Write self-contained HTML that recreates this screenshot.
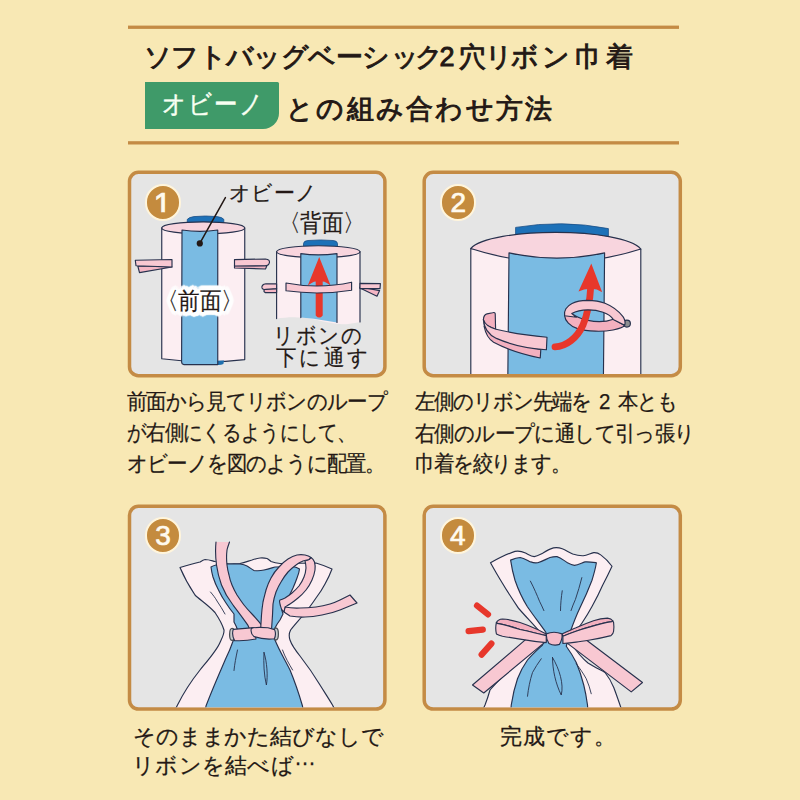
<!DOCTYPE html>
<html lang="ja">
<head>
<meta charset="utf-8">
<title>ソフトバッグベーシック2穴リボン巾着 オビーノとの組み合わせ方法</title>
<style>
html,body{margin:0;padding:0;}
body{width:800px;height:800px;overflow:hidden;background:#f8e8b4;font-family:"Liberation Sans",sans-serif;color:#231815;}
#page{position:relative;width:800px;height:800px;overflow:hidden;background:#f8e8b4;}
#art{position:absolute;left:0;top:0;width:800px;height:800px;}
.t{position:absolute;white-space:nowrap;margin:0;padding:0;line-height:1;text-align:justify;text-align-last:justify;letter-spacing:-4px;text-indent:0;}
.t i{font-style:normal;letter-spacing:0;}
.tl{letter-spacing:0;text-align:left;text-align-last:left;}
.seg{display:inline-block;vertical-align:top;white-space:nowrap;text-align:justify;text-align-last:justify;letter-spacing:-4px;}
.title{font-size:27px;-webkit-text-stroke:0.95px #231815;}
.cap{font-size:21px;-webkit-text-stroke:0.25px #231815;}
.cap2{font-size:22px;-webkit-text-stroke:0.25px #231815;}
.lbl{font-size:21px;-webkit-text-stroke:0.2px #231815;}
.halo{text-shadow:2.0px 0.0px 0.5px #fff,1.4px 1.4px 0.5px #fff,0.0px 2.0px 0.5px #fff,-1.4px 1.4px 0.5px #fff,-2.0px 0.0px 0.5px #fff,-1.4px -1.4px 0.5px #fff,-0.0px -2.0px 0.5px #fff,1.4px -1.4px 0.5px #fff,3.6px 0.0px 0.6px #fff,3.3px 1.4px 0.6px #fff,2.5px 2.5px 0.6px #fff,1.4px 3.3px 0.6px #fff,0.0px 3.6px 0.6px #fff,-1.4px 3.3px 0.6px #fff,-2.5px 2.5px 0.6px #fff,-3.3px 1.4px 0.6px #fff,-3.6px 0.0px 0.6px #fff,-3.3px -1.4px 0.6px #fff,-2.5px -2.5px 0.6px #fff,-1.4px -3.3px 0.6px #fff,-0.0px -3.6px 0.6px #fff,1.4px -3.3px 0.6px #fff,2.5px -2.5px 0.6px #fff,3.3px -1.4px 0.6px #fff,4.6px 0.0px 1.2px #fff,4.4px 1.4px 1.2px #fff,3.7px 2.7px 1.2px #fff,2.7px 3.7px 1.2px #fff,1.4px 4.4px 1.2px #fff,0.0px 4.6px 1.2px #fff,-1.4px 4.4px 1.2px #fff,-2.7px 3.7px 1.2px #fff,-3.7px 2.7px 1.2px #fff,-4.4px 1.4px 1.2px #fff,-4.6px 0.0px 1.2px #fff,-4.4px -1.4px 1.2px #fff,-3.7px -2.7px 1.2px #fff,-2.7px -3.7px 1.2px #fff,-1.4px -4.4px 1.2px #fff,-0.0px -4.6px 1.2px #fff,1.4px -4.4px 1.2px #fff,2.7px -3.7px 1.2px #fff,3.7px -2.7px 1.2px #fff,4.4px -1.4px 1.2px #fff;}
.badge{position:absolute;left:145px;top:81.6px;width:134px;height:47px;background:#3f9a69;border-radius:0 1.5px 16px 0;}
.badge .t{color:#f8fff2;font-size:26px;-webkit-text-stroke:0.45px #f8fff2;transform:scaleX(0.9);transform-origin:0 0;}
.num{position:absolute;width:32.6px;height:32.6px;border-radius:50%;background:#c48b3e;border:2px solid #fff5dc;color:#fffaee;font-size:28px;line-height:33px;text-align:center;-webkit-text-stroke:0.7px #fffaee;}
</style>
</head>
<body>
<div id="page">
<svg id="art" viewBox="0 0 800 800" width="800" height="800">
<!-- header rules -->
<rect x="128" y="25.6" width="551" height="3.3" fill="#c48b45"/>
<rect x="128" y="141.2" width="551" height="3.3" fill="#c48b45"/>
<!-- panels -->
<g fill="#e5e5e5" stroke="#c48b45" stroke-width="3.5">
<rect x="129.5" y="172.3" width="255.4" height="203.4" rx="9" ry="9"/>
<rect x="424.2" y="172.3" width="256.1" height="203.4" rx="9" ry="9"/>
<rect x="129.5" y="506.3" width="255.4" height="202.8" rx="9" ry="9"/>
<rect x="424.2" y="506.3" width="256.1" height="202.8" rx="9" ry="9"/>
</g>
<!--ART1-->
<g id="p1" stroke="#27314d" stroke-width="1.15" stroke-linejoin="round" stroke-linecap="round">
<!-- front cylinder -->
<path d="M187.3,224 L187.3,219.4 Q189,217.2 194,216.6 Q205.5,215.4 217,216.6 Q222.4,217.2 223.8,219.4 L223.8,224 Z" fill="#1d71b8" stroke="#1c4f86" stroke-width="0.8"/>
<path d="M161.75,227.9 L161.75,358.8 Q203,364.4 244.75,359.6 L244.75,227.9 Z" fill="#fceef2"/>
<ellipse cx="203.25" cy="227.9" rx="41.5" ry="6" fill="#f8d5de"/>
<path d="M217.5,360.8 L224,360.6 L223.4,364 Q221,365.2 217.5,365 Z" fill="#1d6fae" stroke="none"/>
<path d="M182,230 Q200,232.6 217.75,230 L217.75,364.6 L184,364.6 Q181.8,364.4 181.6,362 Z" fill="#7abbe3"/>
<!-- left ribbon front -->
<path d="M172,267 L139.5,272.6 L137.8,266 Z" fill="#f4b6c4"/>
<path d="M135.3,260.2 L172,259.5 L172,267 L136,265.8 Z" fill="#f8c8d2"/>
<!-- right ribbon front -->
<path d="M234.5,265.5 L267,265.6 L265.5,269 L234.5,268 Z" fill="#f4b6c4"/>
<path d="M234.5,259.6 L265.5,259 Q270,259.6 269.4,262.6 Q268.8,265.6 265,265.8 L234.5,266 Z" fill="#f8c8d2"/>
<!-- leader -->
<path d="M199.8,243.4 L225.4,197.6" fill="none" stroke="#231815" stroke-width="1.5"/>
<circle cx="199.8" cy="243.4" r="3.1" fill="#231815" stroke="none"/>
<!-- back cylinder -->
<path d="M303.5,248 L303.5,243.4 Q303.8,240.8 308,240.5 Q320.5,239.4 333,240.5 Q337.2,240.8 337.5,243.4 L337.5,248 Z" fill="#1d71b8" stroke="#1c4f86" stroke-width="0.8"/>
<path d="M276.6,251.5 L276.6,318.6 C286,317 296,316.6 306,318 C322,320.4 336,325.6 348,324 C353,323.4 357,322.4 360,322 L360,251.5 Z" fill="#fceef2" stroke="none"/>
<path d="M276.6,318.6 L276.6,251.5 M360,251.5 L360,322" fill="none"/>
<ellipse cx="318.3" cy="251.7" rx="41.7" ry="6" fill="#f8d5de"/>
<path d="M300.8,253.6 Q318,256 337,253.6 L337,322.4 C327,321.4 316,318.6 306,318 L300.8,317.6 Z" fill="#7abbe3" stroke="none"/>
<path d="M300.8,317.6 L300.8,253.6 Q318,256 337,253.6 L337,322.4" fill="none"/>
<!-- red arrow -->
<path d="M319.2,257 L330.6,285.5 Q326,281.6 322.7,281.4 L322.7,315.4 Q319.2,319.8 315.7,315.4 L315.7,281.4 Q312.4,281.6 307.8,285.5 Z" fill="#e7372b" stroke="none"/>
<!-- ribbon tails back -->
<path d="M276.6,288.4 L265,289 Q262.6,291.4 265.4,292.6 L276.6,292.6 Z" fill="#f4b6c4"/>
<path d="M276.6,283.8 L266,283.8 Q261.2,284.6 262,288 Q263,290 266,289.4 L276.6,288.6 Z" fill="#f8c8d2"/>
<path d="M360,288 L377,296.2 L379.6,290.6 L360,287 Z" fill="#f4b6c4"/>
<path d="M360,283.4 L380.4,283.6 L380,288.6 L360,288.6 Z" fill="#f8c8d2"/>
<!-- ribbon across -->
<path d="M286,283 Q319,289.4 351.6,282.2 L351.6,290.2 Q319,295.4 286,290.8 Z" fill="#f8c8d2"/>
</g>
<!--/ART1-->
<!--ART2-->
<defs><clipPath id="c2"><rect x="426" y="174.1" width="252.5" height="199.8" rx="7.3" ry="7.3"/></clipPath></defs>
<g id="p2" clip-path="url(#c2)" stroke="#27314d" stroke-width="1.15" stroke-linejoin="round" stroke-linecap="round">
<path d="M515.6,244 L515.6,227.4 Q562,219.6 608.4,228.6 L608.4,244 Z" fill="#1d71b8" stroke="#1c4f86" stroke-width="0.8"/>
<path d="M470.8,248.5 L470.8,380 L640.8,380 L640.8,249 Z" fill="#fceef2"/>
<path d="M470.8,248.5 C490,227 622,227 640.8,249 Q556,276 470.8,248.5 Z" fill="#f8d5de"/>
<path d="M509,252.9 Q557,263.2 604.6,252.9 L603.4,380 L507.8,380 Z" fill="#7abbe3"/>
<!-- left ribbon -->
<path d="M484,326 C485.4,333 489,339.4 493.6,342.25 C508,350 525,354.8 540.25,358 L540.8,349.6 L496,337 Z" fill="#f3b0bf"/>
<path d="M483.4,319.6 C483.6,316 485,314.4 487,313.9 L492.6,312.7 C494.4,312.2 495.3,312.8 495.25,314.2 L495.6,329.4 L484.2,324.4 Z" fill="#f3b0bf"/>
<path d="M483.4,319.6 C485,324.4 490,327.6 496,329.2 C512,333.2 528,335.6 547,337.2 L546.4,349.7 C528,348.6 511,344.8 496.4,338.4 C488.4,334.6 484,328.4 483.4,319.6 Z" fill="#f8c8d2"/>
<!-- grey hole -->
<circle cx="626.9" cy="323.6" r="3.5" fill="#8d8f91"/>
<!-- loop lower band -->
<path d="M564.6,315.6 C565,321 570,326 577,328.4 C588,331.8 603,331.8 613,330 C619,328.8 623.4,327.6 624.6,325.4 L613.4,319.2 C607,321.6 597,322.4 588,320.4 C580,318.6 574.6,316 571.6,313.2 Z" fill="#f3b0bf"/>
<!-- red arrow -->
<path d="M555,346.9 C566,346.4 577,338.4 583,325 C588.4,312.6 590,300 590.8,286" fill="none" stroke="#e7372b" stroke-width="6.8"/>
<path d="M591.3,263.6 L602.2,292.2 Q596.6,288.6 590.6,288.8 Q584.4,288.6 578.5,291.6 Z" fill="#e7372b" stroke="none"/>
<!-- loop upper band -->
<path d="M564.6,315.8 C563.6,311 566.6,306 572,303.4 C577,301 582,300.4 587,300.4 C594,300.6 600,301.4 605,303.2 C612,306 619,311.4 623,316.6 C624.6,318.8 625.6,321.6 624.8,325.2 L613.2,319.4 C611.6,316.6 608,314 603,312.2 C598,310.4 593,309.8 588,309.8 C582,309.8 576,311 571.8,313.6 L576.4,317.2 Z" fill="#f8c8d2"/>
</g>
<!--/ART2-->
<!--ART3-->
<defs><clipPath id="c3"><rect x="131.3" y="508.1" width="251.8" height="199.2" rx="7.3" ry="7.3"/></clipPath></defs>
<g id="p3" clip-path="url(#c3)" stroke="#27314d" stroke-width="1.15" stroke-linejoin="round" stroke-linecap="round">
<!-- outer bag -->
<path d="M180,567.5 C187,565.4 194,563.4 200,562 C202,560.6 203.4,559.6 205,559.5 C209,559.6 212,560.8 215,561.5 L229,564 C233,564 236.6,564 240,563.5 C244.4,562.6 248,561.2 252,560 C254.8,559 257.4,558.2 260,558 C262.6,557.8 265,558 267,558.5 C268.6,559.4 269.8,560.6 271,561.5 C274,562.6 277,563.2 280,563.5 L316,563 C321.6,564.6 327,566.8 332,569 C330,574.4 327.6,579.4 325,584 C322.4,589 319.4,593.6 316,598 C314,601 312,603.8 310,606.5 C304,614.6 296.6,622.6 290.6,630 C289,633 289,637 290,640 C292,646 296,651 300,656 C307,665 314,675 320,685 C325,693 329,699 332.5,705 L337,714 L173,714 L177.5,705 C184,692 192,680 200,670 C209,659 217,650 220,642.5 C222,638 224.4,634 224,630 C222,623 218,617 215,612.5 C207,604 200,600 195,595 C189,586 184,577 180,567.5 Z" fill="#fceef2"/>
<path d="M210.5,592 C213,595 215.4,598 217,601 C220,605.4 222.6,609.6 225,614" fill="none" stroke-width="0.9"/>
<!-- blue inner -->
<path d="M211,567 C212.6,566 214.4,565.4 216,565 L227.5,564 C232,563.8 236,563.8 240,564 C242.6,564.4 245,565 247,566 C249.6,567.4 251.6,569.2 254,570.5 C257.4,571 260.8,570.8 264,570 C268,569.2 271.6,568 275,567 L293,566.5 C295.4,567 297.6,567.8 299.5,569 C299.2,572 298.2,575 297,578 C295.8,581.4 294.4,584.8 293,588 C291.4,591.4 289.8,594.8 288,598 C285.8,601.6 283.4,605 281.5,609 L283,614 L280,620 C278,622.6 276.2,625.2 275,628 L275,640 C279,650 285,660 290,670 C295,682 299,694 302.5,706 L303.4,714 L204.6,714 L206,706 C212,690 220,672 226,658 C229,652 231,647 232.5,642.5 L237.6,630 C236.6,627 235.4,624.4 234,622 L234,614 C231,610.4 228.4,606.8 226,603 C223.4,599.2 221,595.2 219,591 C216.6,586.6 214.6,582 213,577 C212,573.6 211.4,570.4 211,567 Z" fill="#7abbe3"/>
<path d="M237.5,650 C236,657 234.6,664 234,670.5 M264,652.5 C263.4,663 264,675 266.4,685 C268,676 267,662 264,652.5 M282.5,650 C285,657 289,664 292.6,670" fill="none" stroke-width="0.9"/>
<!-- tail -->
<path d="M285,607 C290,608 295,608.2 300,608 C305.4,608 310.8,607.6 316,607 C320.8,606.4 325.4,605.4 330,604 C333.4,603 336.8,601.6 340,600 L350,595 L357,603 L340,610 C334,612.4 328,614 322,615 C316.4,616.2 310.6,617 305,617 C300,617.2 295,616.8 290,616 L284,612 Z" fill="#f8c8d2"/>
<!-- loop right arm -->
<path d="M311,557.5 C312.6,558.6 313.8,560.2 314.5,562 C315.2,564.6 315.3,567.4 315,570 C314.4,573.6 313.4,577 312,580 C310.4,583.6 308.4,587 306,590 C303.6,593 301,595.6 298,598 C295.4,600.2 292.8,602.2 290,604 C288.4,605 286.6,606 285,607 L284,612 C282,610.6 280.8,608.4 280.5,606 C280,604.4 279.6,602.6 279.5,601 L280,600 C281.6,599.6 283.4,598.8 285,598 C287.4,596.6 289.8,594.8 292,593 C294.6,590.8 297,588.4 299,586 C301,583.2 302.8,580.2 304,577 C305.2,574 305.8,571 306,568 C306,565.6 305.6,563.2 305,561 L309,559.5 Z" fill="#f8c8d2"/>
<!-- left strand -->
<path d="M216,542 C215.2,550 215.6,558 216.5,565 C217.5,572 219.3,579 221.5,585 C224.4,592.4 228.4,599 233,605 C237.6,611 243,618 248,625.4 L250,630 L263.6,628 C260,622.6 256.4,618.6 252,614 C249,611 246.4,608 244,605 C241.4,601.6 239,598 237,595 C235,591.6 233.4,588.4 232,585 C230.6,581.6 229.6,578.4 229,575 C228,571.6 227.4,568.4 227,565 C226.4,560 226.4,555 227,550 C227.6,547 228.6,544.6 229.5,542" fill="#f8c8d2"/>
<!-- knot -->
<ellipse cx="232.2" cy="634.4" rx="2.6" ry="6" fill="#c9cbcd" stroke="#4a4f55" stroke-width="1.3"/>
<ellipse cx="275.8" cy="634" rx="2.6" ry="6" fill="#c9cbcd" stroke="#4a4f55" stroke-width="1.3"/>
<path d="M233.2,629.4 L254,627.6 L256,639 C249,640.4 241,641 234.6,640.6 C232.4,637 232.2,633 233.2,629.4 Z" fill="#f8c8d2"/>
<!-- loop left arm -->
<path d="M260.6,630 L261.5,615 C261.8,610 262.4,606 263,602 C264,597.6 265,594 266,590 C267.4,585.6 269,581.6 271,578 C273.4,573.6 276,570 279,567 C281.6,564 284.6,561.2 288,559 C291,557 294,555.6 297,555 C299.6,554.6 302.4,554.6 305,555 C307.4,555.6 309.4,556.4 311,557.5 L309,559.5 C307,560 305,560.4 303,561 C300.4,562 298,563.4 296,565 C293,567.2 290.4,569.6 288,572 C285.4,575 283,578.4 281,582 C279,585.2 277.4,588.6 276,592 C274.6,596 273.6,600 273,604 L272.5,615 L271.5,630 Z" fill="#f8c8d2"/>
<path d="M251.4,628.4 C256,626.6 262,627.2 268,627.8 L274.6,629.6 C275.8,632.6 275.6,636 274.4,638.8 C267,639.6 260,638.6 254,636.6 C251.6,634.4 250.6,631 251.4,628.4 Z" fill="#f8c8d2"/>
</g>
<!--/ART3-->
<!--ART4-->
<defs><clipPath id="c4"><rect x="426" y="508.1" width="252.5" height="199.2" rx="7.3" ry="7.3"/></clipPath></defs>
<g id="p4" clip-path="url(#c4)" stroke="#27314d" stroke-width="1.15" stroke-linejoin="round" stroke-linecap="round">
<path d="M490.5,562.75 C498,558.6 507,554 515,551.4 C519,550.6 522.4,551.6 525.5,553.1 C528.6,554.6 531,556.4 534.25,556.6 C537.4,556.4 540,554.6 543,553.1 C546.6,550.8 550,548.8 553.5,547.9 C556.6,547.4 559.6,547.8 562.25,548.75 C566,550.2 569.2,552.6 572.75,554 C576.2,555.2 579.8,555.9 583.25,555.75 C587,555.2 590.4,553.4 593.75,552.6 C596.4,552.4 598.8,553.4 600.75,554.9 C605,558 608.8,562 612,566.25 C609,572.8 605.8,579.2 602.5,585.5 C599.4,592.6 595.8,599.6 592,606.5 C589,612 585.6,617.6 582,623 C579,627.4 575.6,631.4 572.5,635 L572.5,645 C577,652 582,658 588,663 C594,667 600,669.6 605,672.5 C609,677.4 611.6,682.4 613.75,687.5 C616,693.4 618,699.2 620,705 L623,714 L481,714 L485,705 C487,700 488.6,695 490,690 C500,678 513,667 525,655 C531,648 537,642 542.5,635 C536,627 527,618 518.5,608.25 C513,600 507.6,592 502.75,583.75 C498.4,576.8 494.4,569.8 490.5,562.75 Z" fill="#fceef2"/>
<path d="M510.6,560.1 C514,558.6 517,557.6 520.25,557.5 C524,558 527.4,560.4 530.75,561.9 C533,562.8 535.4,563.1 537.75,562.75 C542,561.6 546,559.2 550,557.5 C552.4,556.8 554.6,556.5 557,556.6 C560.8,557.6 564,560.6 567.5,562.75 C569.8,564 572,565 574.5,565.4 C578,565 581.6,563 585,561.9 C588.8,561.6 592.6,562.2 596.4,562.75 C595.4,568.6 593.8,574.4 592,580.25 C588.6,589.2 584.4,598.8 579.75,608.25 C577,614 573.4,623 570,632.5 L566.25,646.25 C570,651.4 573.4,656.8 576.25,662.5 C579.4,669.8 581.8,677.4 583.75,685 C585.4,691.6 586.6,698.2 587.5,705 L588,714 L510.6,714 L511.25,705 C512.6,696 514.6,687.2 517.5,678.75 C520,672 523.4,665.8 527.5,660 C532,654.6 537.4,649.8 542.5,645 L546,632.5 C540,624 533,615 527.25,606.5 C522,598 518,589 515,580.25 C513,573.6 511.6,566.8 510.6,560.1 Z" fill="#7abbe3"/>
<path d="M530.4,581.1 C534,588 537,595 539.5,601.25 C541,604.4 542.6,607.4 543.9,610.6 M562.25,590.75 C561.2,597.4 560.6,604 560.5,610.6 M581.85,577.6 C580,585 577.8,592.4 575.4,599.5 C573.8,603.2 572.2,606.8 571,610.6 M541.25,658.75 C538,663.2 535,667.8 532.5,672.5 C530,680.2 528.4,688.2 527.5,696.25 M552.5,657.5 C552.6,670 555.6,683.6 561.25,695 C564,684 559.4,669 552.5,657.5 M576.25,663.75 C580,668.6 583.4,673.6 586.25,678.75 C588.4,683.6 590,688.6 591.25,693.75" fill="none" stroke-width="0.9"/>
<!-- tails -->
<path d="M527,638.4 L472.5,685 L483.75,693 L548,639.6 Z" fill="#f8c8d2"/>
<path d="M581,636 L642.5,682.5 L631.25,691.9 L563.25,640.15 Z" fill="#f8c8d2"/>
<!-- left loop -->
<path d="M546.25,633.9 C543,632.4 540.4,630.8 537.5,629.5 C531.6,626.8 525.8,624.4 520,622.5 C514,620.6 508,619.2 502.5,619 C499.6,619.2 497.4,620.4 496.4,622.5 L497.25,623.4 C505,624.6 512.6,626.8 520,629.5 C528.8,631.4 537.6,633.4 546.25,635.6 Z" fill="#f3b0bf"/>
<path d="M496.4,622.5 L497.25,623.4 C505,624.8 512.6,627 520,629.5 C528.8,631.4 537.6,633.4 546.25,635.6 L546.25,642.6 C537.4,641.8 528.6,640.6 520,639.1 C514,638.2 508,637.2 502.5,636.2 C500.4,635.6 498.2,634.8 496.4,633.9 C495.6,630.4 495.6,626 496.4,622.5 Z" fill="#f8c8d2"/>
<!-- right loop -->
<path d="M562,633.9 C566.6,631.8 571.4,629.6 576,627.75 C581.8,625.2 587.6,622.8 593.5,620.75 C598,619.2 602.8,618.2 607.5,618.1 C610,618.4 611.8,619.4 612.75,620.75 L611.9,621.6 C604.6,622.6 597.2,624.6 590,626.9 C585.2,628.2 580.6,629.6 576,631.25 C571.6,632.8 567.2,634.4 562.9,636.2 Z" fill="#f3b0bf"/>
<path d="M612.75,620.75 L611.9,621.6 C604.6,622.6 597.2,624.6 590,626.9 C585.2,628.2 580.6,629.6 576,631.25 C571.6,632.8 567.2,634.4 562.9,636.2 L562.9,643.5 C567.2,643.2 571.6,642.8 576,642.1 C580.8,641.6 585.4,640.8 590,640 C597,638.8 604,637.4 611,635.6 C612.6,634.4 613.4,633 613.6,631.25 C614,628.4 614,625.4 613.6,622.5 Z" fill="#f8c8d2"/>
<!-- knot -->
<path d="M546.25,633.9 C551,631.8 557,631.8 562,633.9 C562.4,637.4 561.4,641.2 559.4,644.4 C556,645.6 552,645.2 548.9,643.5 C547,640.6 546.2,637.2 546.25,633.9 Z" fill="#f6bdca"/>
<!-- accents -->
<path d="M477,605.6 L488,614.4 M468.6,631.1 L482.8,629.6 M481.6,654.6 L491.4,643.6" fill="none" stroke="#e7372b" stroke-width="6.2"/>
</g>
<!--/ART4-->
</svg>

<!--TEXT-->
<div class="t title tl" style="left:0;top:43.5px;width:800px;"><span class="seg" style="margin-left:143.9px;width:242px;">ソフトバッグベーシ</span><span class="seg" style="margin-left:5.5px;width:58px;">ック2</span><span class="seg" style="margin-left:9.5px;width:76.4px;">穴リボ</span><span class="seg" style="margin-left:6.5px;width:87.5px;">ン巾着</span></div>
<div class="badge"><div class="t" style="left:17px;top:9.6px;width:109px;">オビーノ</div></div>
<div class="t title" style="left:286px;top:96px;width:262px;">との組み合わせ方法</div>

<div class="num" style="left:144.8px;top:184.2px;"><span style="display:inline-block;font-size:32.5px;line-height:33px;height:33px;position:relative;top:2.4px;left:-0.5px;clip-path:inset(0 0 9.3px 0);">1</span></div>
<div class="num" style="left:439.9px;top:184.2px;">2</div>
<div class="num" style="left:144.8px;top:517px;">3</div>
<div class="num" style="left:439.6px;top:517px;">4</div>

<div class="t lbl" style="left:229px;top:183px;width:84px;font-size:20.5px;">オビーノ</div>
<div class="t lbl" style="left:279.3px;top:211.6px;width:91.6px;font-size:23.5px;transform:scaleX(0.9);transform-origin:0 0;">〈背面〉</div>
<div class="t lbl halo" style="left:156.5px;top:289.8px;width:91.6px;font-size:23.5px;transform:scaleX(0.9);transform-origin:0 0;">〈前面〉</div>
<div class="t lbl" style="left:272.5px;top:325.0px;width:91.9px;font-size:22px;transform:scaleX(0.93);transform-origin:0 0;">リボンの</div>
<div class="t lbl" style="left:275.6px;top:346.5px;width:95.6px;font-size:22px;transform:scaleX(0.93);transform-origin:0 0;">下に通す</div>

<div class="t cap" style="left:127px;top:390.5px;width:276.6px;font-size:22px;transform:scaleX(0.93);transform-origin:0 0;">前面から見てリボンのループ</div>
<div class="t cap" style="left:127px;top:421.8px;width:257.2px;font-size:22px;transform:scaleX(0.88);transform-origin:0 0;">が右側にくるようにして、</div>
<div class="t cap" style="left:127px;top:453px;width:274.2px;font-size:22px;transform:scaleX(0.93);transform-origin:0 0;">オビーノを図のように配置。</div>

<div class="t cap" style="left:414.5px;top:390.5px;width:279.6px;font-size:22px;transform:scaleX(0.93);transform-origin:0 0;">左側のリボン先端を<i> 2 </i>本とも</div>
<div class="t cap" style="left:414.5px;top:422.8px;width:297.8px;font-size:22px;transform:scaleX(0.93);transform-origin:0 0;">右側のループに通して引っ張り</div>
<div class="t cap" style="left:414.5px;top:453px;width:164.0px;font-size:22px;transform:scaleX(0.93);transform-origin:0 0;">巾着を絞ります。</div>

<div class="t cap2" style="left:133px;top:725.5px;width:246.5px;">そのままかた結びなしで</div>
<div class="t cap2" style="left:132px;top:754.5px;width:180px;">リボンを結べば<span style="position:relative;top:-0.36em">…</span></div>
<div class="t cap2" style="left:500px;top:726px;width:112px;">完成です。</div>
<!--/TEXT-->
</div>
</body>
</html>
